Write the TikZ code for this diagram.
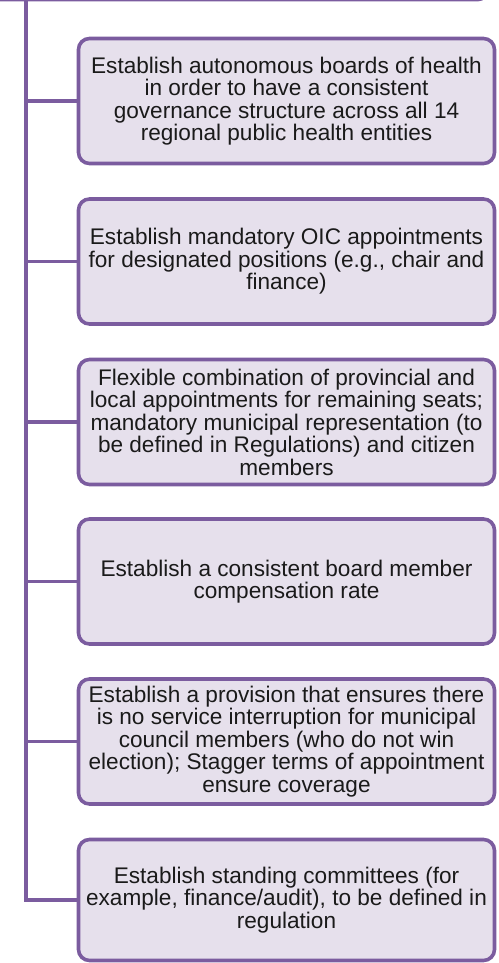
\documentclass[tikz,border=0pt]{standalone}
\usepackage{fontspec}
\setmainfont{Liberation Sans}
\definecolor{lineP}{HTML}{7B5C9F}
\definecolor{fillP}{HTML}{E6E0EC}
\definecolor{txt}{HTML}{1A1A1A}
\begin{document}
\begin{tikzpicture}[x=1pt,y=1pt,
  itembox/.style={draw=lineP, fill=fillP, line width=3.6pt, rounded corners=11pt,
    minimum width=416pt, minimum height=125pt, align=center, text=txt,
    inner sep=0pt, font=\fontsize{22.6}{22.5}\selectfont},
  parentbox/.style={draw=lineP, fill=fillP, line width=3.6pt, rounded corners=11pt,
    minimum width=520pt, minimum height=60pt, inner sep=0pt},
  conn/.style={draw=lineP, line width=3.6pt}]
\useasboundingbox (0,0) rectangle (498,-963);
\node[parentbox, anchor=south east] (parent) at (490,-1.5) {};
\coordinate (trunk) at (26,0);
\node[itembox] (b1) at (286.5,-101) {Establish autonomous boards of health\\in order to have a consistent\\governance structure across all 14\\regional public health entities};
\node[itembox] (b2) at (286.5,-261.5) {Establish mandatory OIC appointments\\for designated positions (e.g., chair and\\finance)};
\node[itembox] (b3) at (286.5,-422) {Flexible combination of provincial and\\local appointments for remaining seats;\\mandatory municipal representation (to\\be defined in Regulations) and citizen\\members};
\node[itembox] (b4) at (286.5,-581.5) {Establish a consistent board member\\compensation rate};
\node[itembox] (b5) at (286.5,-741.5) {Establish a provision that ensures there\\is no service interruption for municipal\\council members (who do not win\\election); Stagger terms of appointment\\ensure coverage};
\node[itembox, minimum height=121pt] (b6) at (286.5,-900) {Establish standing committees (for\\example, finance/audit), to be defined in\\regulation};
\draw[conn] (parent.south -| trunk) |- (b6.west);
\foreach \b in {b1,b2,b3,b4,b5}{
  \draw[conn] (\b.west -| trunk) -- (\b.west);
}
\end{tikzpicture}
\end{document}
